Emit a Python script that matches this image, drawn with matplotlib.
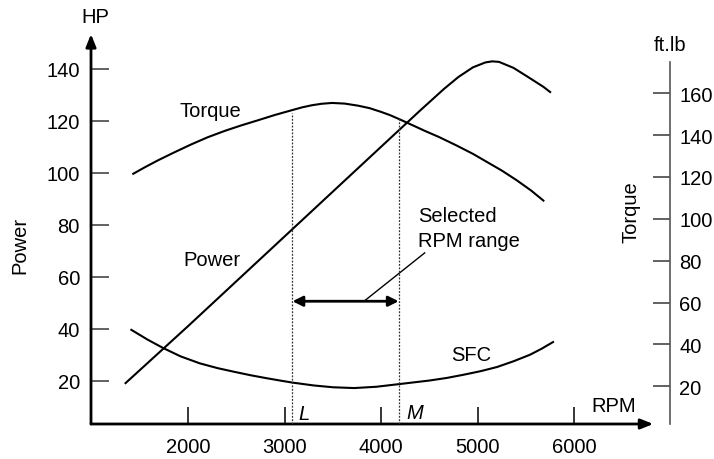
import matplotlib
matplotlib.use("Agg")
import matplotlib.pyplot as plt
from matplotlib.patches import ArrowStyle

plt.rcParams['font.family'] = ['Liberation Sans', 'DejaVu Sans']
FS = 14.5

# Power curve (HP, left axis)
power_rpm = [1350, 2000, 3000, 4000, 4400, 4650, 4800, 4950, 5080, 5150, 5220, 5370,
             5520, 5680, 5750]
power_hp = [19, 41, 75.5, 110, 123.8, 132.2, 136.8, 140.5, 142.4, 142.8, 142.6, 140.3,
            136.8, 133, 131]

# Torque curve (ft.lb, right axis)
torque_rpm = [1430, 1550, 1690, 1850, 2030, 2200, 2380, 2550, 2720, 2900, 3070, 3180,
              3280, 3380, 3490, 3620, 3760, 3880, 4000, 4090, 4180, 4280, 4450, 4600,
              4780, 4950, 5100, 5250, 5400, 5550, 5680]
torque_ftlb = [121.5, 124.6, 128, 131.6, 135.5, 138.9, 142, 144.6, 147, 149.6, 151.8, 153.2,
               154.2, 154.9, 155.3, 155, 154, 152.8, 151, 149.5, 147.7, 145.6, 142, 139,
               135, 131, 127, 123, 118.5, 113.6, 108.7]

# SFC curve (no scale, drawn against the left axis)
sfc_rpm = [1410, 1580, 1740, 1920, 2120, 2300, 2470, 2650, 2810, 2950, 3080, 3300, 3500,
           3720, 3950, 4180, 4340, 4500, 4680, 4850, 5030, 5200, 5370, 5540, 5660, 5780]
sfc_val = [39.5, 35.7, 32.5, 29.3, 26.6, 24.8, 23.4, 22.0, 20.9, 20.0, 19.2, 18.1, 17.4,
           17.1, 17.6, 18.6, 19.3, 20.0, 21.0, 22.2, 23.6, 25.2, 27.4, 29.9, 32.2, 34.8]

# selected RPM range
L_rpm = 3080
M_rpm = 4180
range_hp = 50.5

hp_ticks = [20, 40, 60, 80, 100, 120, 140]
ftlb_ticks = [20, 40, 60, 80, 100, 120, 140, 160]
rpm_ticks = [2000, 3000, 4000, 5000, 6000]

W, H = 714, 460
fig = plt.figure(figsize=(W / 100, H / 100), dpi=100)


def px(x, y):
    return x / W, 1 - y / H


ax = fig.add_axes([91 / W, 35 / H, 579 / W, 395 / H])
ax.set_xlim(992, 6992)
ax.set_ylim(3.27, 155.25)
ax2 = ax.twinx()
ax2.set_ylim(2.05, 190.6)

for s in ax.spines.values():
    s.set_visible(False)
for name, s in ax2.spines.items():
    s.set_visible(name == 'right')
ax2.spines['right'].set_bounds(2.05, 174.8)
ax2.spines['right'].set_color('#555555')
ax2.spines['right'].set_linewidth(1.2)

# axis arrows
head = ArrowStyle('-|>', head_length=0.75, head_width=0.3)
ax.annotate('', xy=(992, 153.3), xytext=(992, 3.27),
            arrowprops=dict(arrowstyle=head, lw=2, color='black', mutation_scale=10,
                            shrinkA=0, shrinkB=0), annotation_clip=False)
ax.annotate('', xy=(6819, 3.27), xytext=(992, 3.27),
            arrowprops=dict(arrowstyle=head, lw=2, color='black', mutation_scale=10,
                            shrinkA=0, shrinkB=0), annotation_clip=False)

ax.set_yticks(hp_ticks)
ax.set_xticks(rpm_ticks)
ax2.set_yticks(ftlb_ticks)
ax.tick_params(axis='y', direction='in', length=13, width=1.3, color='#555555',
               pad=8, labelsize=FS)
ax.tick_params(axis='x', direction='in', length=12.5, width=1.1, color='black',
               pad=9.5, labelsize=FS)
ax2.tick_params(axis='y', direction='in', length=12.5, width=1.3, color='#555555',
                pad=6.5, labelsize=FS)

# curves
ax.plot(power_rpm, power_hp, color='black', lw=1.5, solid_joinstyle='round')
ax.plot(sfc_rpm, sfc_val, color='black', lw=1.5, solid_joinstyle='round')
ax2.plot(torque_rpm, torque_ftlb, color='black', lw=1.5, solid_joinstyle='round')

# selected range markers
ax2.plot([L_rpm, L_rpm], [2.05, 150.5], color='#333333', lw=0.9, dashes=(1.5, 1.2))
ax2.plot([M_rpm, M_rpm], [2.05, 148.5], color='#333333', lw=0.9, dashes=(1.5, 1.2))
ax.annotate('', xy=(L_rpm, range_hp), xytext=(M_rpm, range_hp),
            arrowprops=dict(arrowstyle=ArrowStyle('<|-|>', head_length=0.6, head_width=0.3),
                            lw=2, color='black', mutation_scale=10, shrinkA=0, shrinkB=0))
ax.plot([3821, 4450], [range_hp, 69.1], color='black', lw=1)

# texts
fig.text(*px(95, 22.7), 'HP', fontsize=FS, ha='center', va='baseline')
fig.text(*px(670, 50.7), 'ft.lb', fontsize=FS, ha='center', va='baseline')
fig.text(*px(20, 245), 'Power', fontsize=FS, ha='center', va='center', rotation=90)
fig.text(*px(631, 212), 'Torque', fontsize=FS, ha='center', va='center', rotation=90)
fig.text(*px(591, 411.7), 'RPM', fontsize=FS, ha='left', va='baseline')
fig.text(*px(179, 117.3), 'Torque', fontsize=FS, ha='left', va='baseline')
fig.text(*px(183, 266), 'Power', fontsize=FS, ha='left', va='baseline')
fig.text(*px(451.5, 360.7), 'SFC', fontsize=FS, ha='left', va='baseline')
fig.text(*px(418, 221.7), 'Selected', fontsize=FS, ha='left', va='baseline')
fig.text(*px(418, 247.5), 'RPM range', fontsize=FS, ha='left', va='baseline')
fig.text(*px(298, 420), 'L', fontsize=FS, ha='left', va='baseline', style='italic')
fig.text(*px(406, 419.3), 'M', fontsize=FS, ha='left', va='baseline', style='italic')

fig.savefig('out.png', dpi=100)
